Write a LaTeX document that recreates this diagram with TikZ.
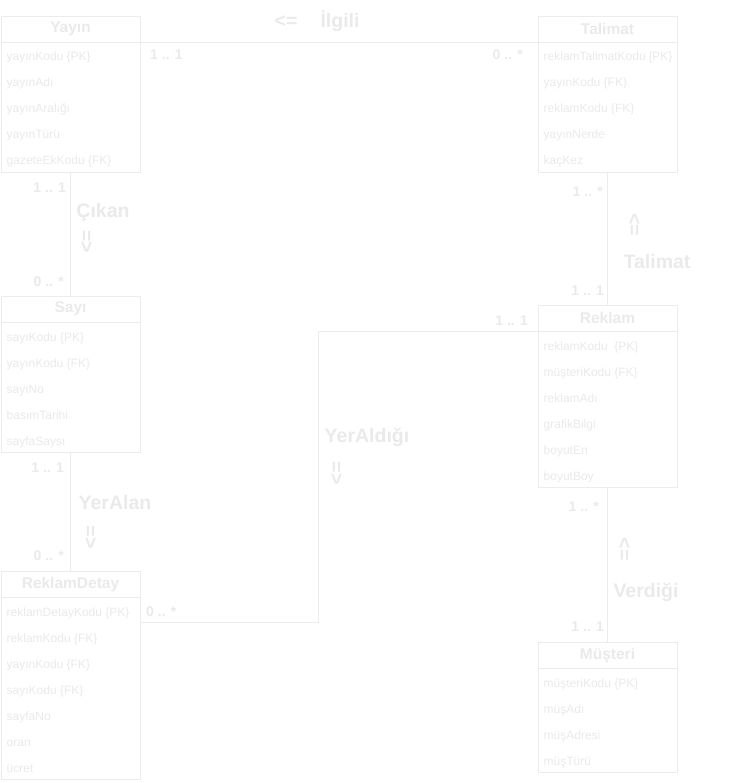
\documentclass[tikz,border=0pt]{standalone}
\usepackage{fontspec}
\setmainfont{Liberation Sans}
\usetikzlibrary{calc}
\definecolor{fg}{RGB}{234,234,234}
\definecolor{lc}{RGB}{236,236,236}
\tikzset{
  box/.style={draw=lc, line width=0.8pt, minimum width=139pt, inner sep=0pt, outer sep=0pt, anchor=north west},
  hdr/.style={font=\bfseries\fontsize{15.5}{16}\selectfont, text=fg, inner sep=0pt},
  attr/.style={font=\fontsize{12}{13}\selectfont, text=fg, anchor=base west, inner sep=0pt},
  mult/.style={font=\bfseries\fontsize{14}{15}\selectfont, text=fg, inner sep=0pt},
  rel/.style={font=\bfseries\fontsize{19.5}{20}\selectfont, text=fg, inner sep=0pt, anchor=base},
  dirmark/.style={font=\bfseries\fontsize{19.5}{20}\selectfont, text=fg, inner sep=0pt, rotate=-90},
  conn/.style={draw=lc, line width=0.8pt},
}
\newcommand\entity[6]{%
  \node[box, minimum height=26pt] (#1H) at (#2,#3) {};
  \node[hdr] (#1T) at (#1H.center) {#4};
  \node[box, minimum height=#5*26pt] (#1B) at (#2,#3+26) {};
  \foreach \myattr [count=\i] in {#6} {\node[attr] (#1A\i) at (#2+5.5,#3+26*\i+19) {\myattr};}
}
\begin{document}
\begin{tikzpicture}[x=1pt,y=-1pt]
\fill[white] (0,0) rectangle (752,783);
\useasboundingbox (0,0) rectangle (752,783);

\entity{yayin}{1}{16}{Yayın}{5}{yayınKodu \{PK\}, yayınAdı, yayınAralığı, yayınTürü, gazeteEkKodu \{FK\}}
\entity{talimat}{538}{16}{Talimat}{5}{reklamTalimatKodu [PK\}, yayınKodu \{FK\}, reklamKodu \{FK\}, yayınNerde, kaçKez}
\entity{sayi}{1}{296}{Sayı}{5}{sayıKodu \{PK\}, yayınKodu \{FK\}, sayıNo, basımTarihi, sayfaSaysı}
\entity{rd}{1}{571}{ReklamDetay}{7}{reklamDetayKodu \{PK\}, reklamKodu \{FK\}, yayınKodu \{FK\}, sayıKodu \{FK\}, sayfaNo, oran, ücret}
\entity{reklam}{538}{305}{Reklam}{6}{reklamKodu~\ \{PK\}, müşteriKodu \{FK\}, reklamAdı, grafikBilgi, boyutEn, boyutBoy}
\entity{musteri}{538}{642}{Müşteri}{4}{müşteriKodu \{PK\}, müşAdı, müşAdresi, müşTürü}

% connectors
\draw[conn] (yayinH.south east) -- (talimatH.south west);
\draw[conn] (yayinB.south) -- (sayiH.north);
\draw[conn] (sayiB.south) -- (rdH.north);
\coordinate (rdR) at ($(rdB.north east)+(0,25)$);
\coordinate (bend) at (318,331);
\draw[conn] (rdR) -| (bend) -- (reklamH.south west);
\draw[conn] (talimatB.south) -- (reklamH.north);
\draw[conn] (reklamB.south) -- (musteriH.north);

% relationship names and directions
\node[rel] (ilgiliD) at (286,28) {<=};
\node[rel] (ilgili) at (340,28) {İlgili};
\node[rel] (cikan) at (103,218) {Çıkan};
\node[dirmark] (cikanD) at (86,242) {=>};
\node[rel] (yeralan) at (115,509) {YerAlan};
\node[dirmark] (yeralanD) at (90,537) {=>};
\node[rel] (yeraldigi) at (367,442) {YerAldığı};
\node[dirmark] (yeraldigiD) at (336,473) {=>};
\node[rel] (talimatR) at (657,269) {Talimat};
\node[dirmark] (talimatD) at (634,225) {<=};
\node[rel] (verdigi) at (646,597) {Verdiği};
\node[dirmark] (verdigiD) at (624,549) {<=};

% multiplicities
\node[mult, anchor=west] (m1) at (150,55) {1 .. 1};
\node[mult, anchor=east] (m2) at (523,55) {0 .. *};
\node[mult, anchor=east] (m3) at (66,188) {1 .. 1};
\node[mult, anchor=east] (m4) at (64,282) {0 .. *};
\node[mult, anchor=east] (m5) at (64,468) {1 .. 1};
\node[mult, anchor=east] (m6) at (64,556) {0 .. *};
\node[mult, anchor=west] (m7) at (146,612) {0 .. *};
\node[mult, anchor=east] (m8) at (528,321) {1 .. 1};
\node[mult, anchor=east] (m9) at (603,192) {1 .. *};
\node[mult, anchor=east] (m10) at (604,291) {1 .. 1};
\node[mult, anchor=east] (m11) at (599,507) {1 .. *};
\node[mult, anchor=east] (m12) at (604,627) {1 .. 1};
\end{tikzpicture}
\end{document}
